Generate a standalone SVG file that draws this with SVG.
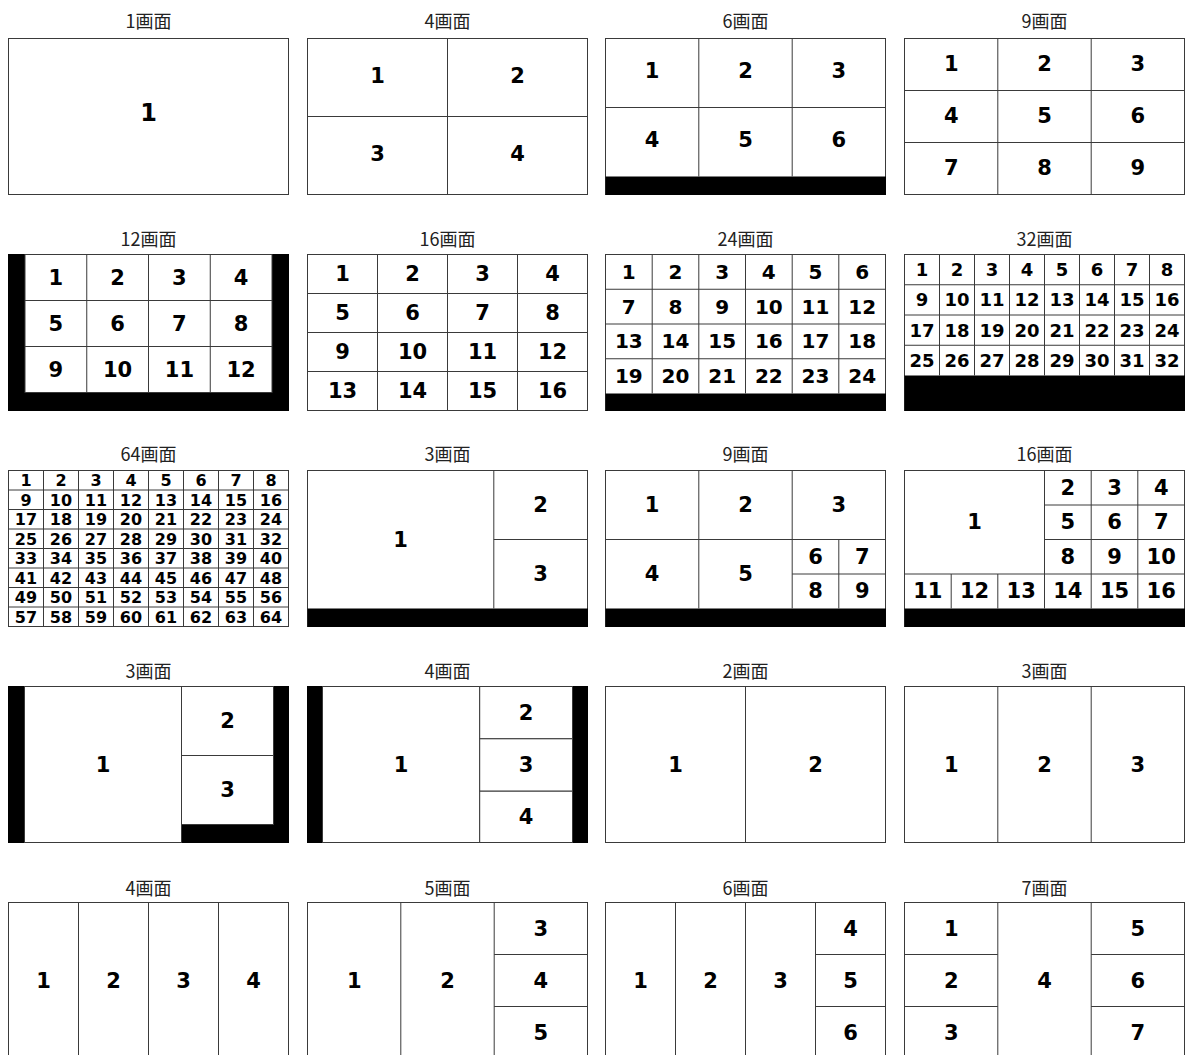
<svg xmlns="http://www.w3.org/2000/svg" width="1185" height="1055" viewBox="0 0 1185 1055">
<style>
.fr{fill:#fff;stroke:#3a3a3a;stroke-width:1}
.ln{fill:none;stroke:#3a3a3a;stroke-width:1}
.bk{fill:#000}
.tt{font-family:"Noto Sans CJK JP","Noto Sans",sans-serif;font-size:18px;fill:#222;text-anchor:middle}
.n{font-family:"DejaVu Sans",Verdana,sans-serif;font-weight:bold;font-size:21px;fill:#000;text-anchor:middle}
.n24{font-size:24px}
.n20{font-size:20px}
.n18{font-size:18px}
.n16{font-size:16px}
</style>
<rect width="1185" height="1055" fill="#fff"/>
<g id="connectors"/>

<!-- Row 0 -->
<g id="p-1">
<text class="tt" x="148.5" y="27.5">1画面</text>
<rect class="fr" x="8.5" y="38.5" width="280" height="156"/>
<text class="n n24" x="148.5" y="121">1</text>
</g>
<g id="p-4a">
<text class="tt" x="447.5" y="27.5">4画面</text>
<rect class="fr" x="307.5" y="38.5" width="280" height="156"/>
<path class="ln" d="M447.5 38.5V194.5M307.5 116.5H587.5"/>
<text class="n" x="377.5" y="83">1</text><text class="n" x="517.5" y="83">2</text>
<text class="n" x="377.5" y="161">3</text><text class="n" x="517.5" y="161">4</text>
</g>
<g id="p-6a">
<text class="tt" x="745.5" y="27.5">6画面</text>
<rect class="fr" x="605.5" y="38.5" width="280" height="156"/>
<rect class="bk" x="605.5" y="176.5" width="280.5" height="18.5"/>
<path class="ln" d="M698.8 38.5V176.5M792.2 38.5V176.5M605.5 107.5H885.5"/>
<text class="n" x="652.1" y="77.5">1</text><text class="n" x="745.5" y="77.5">2</text><text class="n" x="838.8" y="77.5">3</text>
<text class="n" x="652.1" y="146.5">4</text><text class="n" x="745.5" y="146.5">5</text><text class="n" x="838.8" y="146.5">6</text>
</g>
<g id="p-9a">
<text class="tt" x="1044.5" y="27.5">9画面</text>
<rect class="fr" x="904.5" y="38.5" width="280" height="156"/>
<path class="ln" d="M997.8 38.5V194.5M1091.2 38.5V194.5M904.5 90.5H1184.5M904.5 142.5H1184.5"/>
<text class="n" x="951.2" y="70.5">1</text><text class="n" x="1044.5" y="70.5">2</text><text class="n" x="1137.8" y="70.5">3</text>
<text class="n" x="951.2" y="122.5">4</text><text class="n" x="1044.5" y="122.5">5</text><text class="n" x="1137.8" y="122.5">6</text>
<text class="n" x="951.2" y="174.5">7</text><text class="n" x="1044.5" y="174.5">8</text><text class="n" x="1137.8" y="174.5">9</text>
</g>

<!-- Row 1 -->
<g id="p-12">
<text class="tt" x="148.5" y="245.5">12画面</text>
<rect class="bk" x="8" y="254" width="281" height="157"/>
<rect class="fr" x="25" y="254.5" width="247" height="138"/>
<path class="ln" d="M86.75 254.5V392.5M148.5 254.5V392.5M210.25 254.5V392.5M25 300.5H272M25 346.5H272"/>
<text class="n" x="55.9" y="284.5">1</text><text class="n" x="117.6" y="284.5">2</text><text class="n" x="179.4" y="284.5">3</text><text class="n" x="241.1" y="284.5">4</text>
<text class="n" x="55.9" y="330.5">5</text><text class="n" x="117.6" y="330.5">6</text><text class="n" x="179.4" y="330.5">7</text><text class="n" x="241.1" y="330.5">8</text>
<text class="n" x="55.9" y="376.5">9</text><text class="n" x="117.6" y="376.5">10</text><text class="n" x="179.4" y="376.5">11</text><text class="n" x="241.1" y="376.5">12</text>
</g>
<g id="p-16a">
<text class="tt" x="447.5" y="245.5">16画面</text>
<rect class="fr" x="307.5" y="254.5" width="280" height="156"/>
<path class="ln" d="M377.5 254.5V410.5M447.5 254.5V410.5M517.5 254.5V410.5M307.5 293.5H587.5M307.5 332.5H587.5M307.5 371.5H587.5"/>
<text class="n" x="342.5" y="281">1</text><text class="n" x="412.5" y="281">2</text><text class="n" x="482.5" y="281">3</text><text class="n" x="552.5" y="281">4</text>
<text class="n" x="342.5" y="320">5</text><text class="n" x="412.5" y="320">6</text><text class="n" x="482.5" y="320">7</text><text class="n" x="552.5" y="320">8</text>
<text class="n" x="342.5" y="359">9</text><text class="n" x="412.5" y="359">10</text><text class="n" x="482.5" y="359">11</text><text class="n" x="552.5" y="359">12</text>
<text class="n" x="342.5" y="398">13</text><text class="n" x="412.5" y="398">14</text><text class="n" x="482.5" y="398">15</text><text class="n" x="552.5" y="398">16</text>
</g>
<g id="p-24">
<text class="tt" x="745.5" y="245.5">24画面</text>
<rect class="fr" x="605.5" y="254.5" width="280" height="156"/>
<rect class="bk" x="605.5" y="393.5" width="280.5" height="17.5"/>
<path class="ln" d="M652.2 254.5V393.5M698.8 254.5V393.5M745.5 254.5V393.5M792.2 254.5V393.5M838.8 254.5V393.5M605.5 289.25H885.5M605.5 324H885.5M605.5 358.75H885.5"/>
<g class="n n20">
<text x="628.8" y="278.9">1</text><text x="675.5" y="278.9">2</text><text x="722.2" y="278.9">3</text><text x="768.8" y="278.9">4</text><text x="815.5" y="278.9">5</text><text x="862.2" y="278.9">6</text>
<text x="628.8" y="313.6">7</text><text x="675.5" y="313.6">8</text><text x="722.2" y="313.6">9</text><text x="768.8" y="313.6">10</text><text x="815.5" y="313.6">11</text><text x="862.2" y="313.6">12</text>
<text x="628.8" y="348.4">13</text><text x="675.5" y="348.4">14</text><text x="722.2" y="348.4">15</text><text x="768.8" y="348.4">16</text><text x="815.5" y="348.4">17</text><text x="862.2" y="348.4">18</text>
<text x="628.8" y="383.1">19</text><text x="675.5" y="383.1">20</text><text x="722.2" y="383.1">21</text><text x="768.8" y="383.1">22</text><text x="815.5" y="383.1">23</text><text x="862.2" y="383.1">24</text>
</g>
</g>
<g id="p-32">
<text class="tt" x="1044.5" y="245.5">32画面</text>
<rect class="fr" x="904.5" y="254.5" width="280" height="156"/>
<rect class="bk" x="904.5" y="375.5" width="280.5" height="35.5"/>
<path class="ln" d="M939.5 254.5V375.5M974.5 254.5V375.5M1009.5 254.5V375.5M1044.5 254.5V375.5M1079.5 254.5V375.5M1114.5 254.5V375.5M1149.5 254.5V375.5M904.5 284.75H1184.5M904.5 315H1184.5M904.5 345.25H1184.5"/>
<g class="n n18">
<text x="922" y="276.1">1</text><text x="957" y="276.1">2</text><text x="992" y="276.1">3</text><text x="1027" y="276.1">4</text><text x="1062" y="276.1">5</text><text x="1097" y="276.1">6</text><text x="1132" y="276.1">7</text><text x="1167" y="276.1">8</text>
<text x="922" y="306.4">9</text><text x="957" y="306.4">10</text><text x="992" y="306.4">11</text><text x="1027" y="306.4">12</text><text x="1062" y="306.4">13</text><text x="1097" y="306.4">14</text><text x="1132" y="306.4">15</text><text x="1167" y="306.4">16</text>
<text x="922" y="336.6">17</text><text x="957" y="336.6">18</text><text x="992" y="336.6">19</text><text x="1027" y="336.6">20</text><text x="1062" y="336.6">21</text><text x="1097" y="336.6">22</text><text x="1132" y="336.6">23</text><text x="1167" y="336.6">24</text>
<text x="922" y="366.9">25</text><text x="957" y="366.9">26</text><text x="992" y="366.9">27</text><text x="1027" y="366.9">28</text><text x="1062" y="366.9">29</text><text x="1097" y="366.9">30</text><text x="1132" y="366.9">31</text><text x="1167" y="366.9">32</text>
</g>
</g>

<!-- Row 2 -->
<g id="p-64">
<text class="tt" x="148.5" y="461">64画面</text>
<rect class="fr" x="8.5" y="470.5" width="280" height="156"/>
<path class="ln" d="M43.5 470.5V626.5M78.5 470.5V626.5M113.5 470.5V626.5M148.5 470.5V626.5M183.5 470.5V626.5M218.5 470.5V626.5M253.5 470.5V626.5M8.5 490H288.5M8.5 509.5H288.5M8.5 529H288.5M8.5 548.5H288.5M8.5 568H288.5M8.5 587.5H288.5M8.5 607H288.5"/>
<g class="n n16">
<text x="26" y="486">1</text><text x="61" y="486">2</text><text x="96" y="486">3</text><text x="131" y="486">4</text><text x="166" y="486">5</text><text x="201" y="486">6</text><text x="236" y="486">7</text><text x="271" y="486">8</text>
<text x="26" y="505.5">9</text><text x="61" y="505.5">10</text><text x="96" y="505.5">11</text><text x="131" y="505.5">12</text><text x="166" y="505.5">13</text><text x="201" y="505.5">14</text><text x="236" y="505.5">15</text><text x="271" y="505.5">16</text>
<text x="26" y="525">17</text><text x="61" y="525">18</text><text x="96" y="525">19</text><text x="131" y="525">20</text><text x="166" y="525">21</text><text x="201" y="525">22</text><text x="236" y="525">23</text><text x="271" y="525">24</text>
<text x="26" y="544.5">25</text><text x="61" y="544.5">26</text><text x="96" y="544.5">27</text><text x="131" y="544.5">28</text><text x="166" y="544.5">29</text><text x="201" y="544.5">30</text><text x="236" y="544.5">31</text><text x="271" y="544.5">32</text>
<text x="26" y="564">33</text><text x="61" y="564">34</text><text x="96" y="564">35</text><text x="131" y="564">36</text><text x="166" y="564">37</text><text x="201" y="564">38</text><text x="236" y="564">39</text><text x="271" y="564">40</text>
<text x="26" y="583.5">41</text><text x="61" y="583.5">42</text><text x="96" y="583.5">43</text><text x="131" y="583.5">44</text><text x="166" y="583.5">45</text><text x="201" y="583.5">46</text><text x="236" y="583.5">47</text><text x="271" y="583.5">48</text>
<text x="26" y="603">49</text><text x="61" y="603">50</text><text x="96" y="603">51</text><text x="131" y="603">52</text><text x="166" y="603">53</text><text x="201" y="603">54</text><text x="236" y="603">55</text><text x="271" y="603">56</text>
<text x="26" y="622.5">57</text><text x="61" y="622.5">58</text><text x="96" y="622.5">59</text><text x="131" y="622.5">60</text><text x="166" y="622.5">61</text><text x="201" y="622.5">62</text><text x="236" y="622.5">63</text><text x="271" y="622.5">64</text>
</g>
</g>
<g id="p-3a">
<text class="tt" x="447.5" y="461">3画面</text>
<rect class="fr" x="307.5" y="470.5" width="280" height="156"/>
<rect class="bk" x="307.5" y="608.5" width="280.5" height="18.5"/>
<path class="ln" d="M493.8 470.5V608.5M493.8 539.5H587.5"/>
<text class="n" x="400.6" y="546.5">1</text><text class="n" x="540.6" y="512">2</text><text class="n" x="540.6" y="581">3</text>
</g>
<g id="p-9b">
<text class="tt" x="745.5" y="461">9画面</text>
<rect class="fr" x="605.5" y="470.5" width="280" height="156"/>
<rect class="bk" x="605.5" y="608.5" width="280.5" height="18.5"/>
<path class="ln" d="M698.8 470.5V608.5M792.2 470.5V608.5M605.5 539.5H885.5M792.2 574H885.5M838.8 539.5V608.5"/>
<text class="n" x="652.1" y="512">1</text><text class="n" x="745.5" y="512">2</text><text class="n" x="838.8" y="512">3</text>
<text class="n" x="652.1" y="581">4</text><text class="n" x="745.5" y="581">5</text>
<text class="n" x="815.5" y="563.75">6</text><text class="n" x="862.2" y="563.75">7</text>
<text class="n" x="815.5" y="598.25">8</text><text class="n" x="862.2" y="598.25">9</text>
</g>
<g id="p-16b">
<text class="tt" x="1044.5" y="461">16画面</text>
<rect class="fr" x="904.5" y="470.5" width="280" height="156"/>
<rect class="bk" x="904.5" y="608.5" width="280.5" height="18.5"/>
<path class="ln" d="M1044.5 470.5V608.5M1091.2 470.5V608.5M1137.8 470.5V608.5M951.2 574V608.5M997.8 574V608.5M1044.5 505H1184.5M1044.5 539.5H1184.5M904.5 574H1184.5"/>
<text class="n" x="974.5" y="529.25">1</text>
<text class="n" x="1067.8" y="494.75">2</text><text class="n" x="1114.5" y="494.75">3</text><text class="n" x="1161.2" y="494.75">4</text>
<text class="n" x="1067.8" y="529.25">5</text><text class="n" x="1114.5" y="529.25">6</text><text class="n" x="1161.2" y="529.25">7</text>
<text class="n" x="1067.8" y="563.75">8</text><text class="n" x="1114.5" y="563.75">9</text><text class="n" x="1161.2" y="563.75">10</text>
<text class="n" x="927.8" y="598.25">11</text><text class="n" x="974.5" y="598.25">12</text><text class="n" x="1021.2" y="598.25">13</text><text class="n" x="1067.8" y="598.25">14</text><text class="n" x="1114.5" y="598.25">15</text><text class="n" x="1161.2" y="598.25">16</text>
</g>

<!-- Row 3 -->
<g id="p-3b">
<text class="tt" x="148.5" y="677.5">3画面</text>
<rect class="bk" x="8" y="686" width="281" height="157"/>
<rect class="fr" x="24.5" y="686.5" width="157" height="156"/>
<rect class="fr" x="181.5" y="686.5" width="92" height="69"/>
<rect class="fr" x="181.5" y="755.5" width="92" height="69"/>
<text class="n" x="103" y="771.5">1</text><text class="n" x="227.5" y="728">2</text><text class="n" x="227.5" y="797">3</text>
</g>
<g id="p-4b">
<text class="tt" x="447.5" y="677.5">4画面</text>
<rect class="bk" x="307" y="686" width="281" height="157"/>
<rect class="fr" x="322.5" y="686.5" width="157.2" height="156"/>
<rect class="fr" x="479.7" y="686.5" width="92.8" height="52.3"/>
<rect class="fr" x="479.7" y="738.8" width="92.8" height="52.4"/>
<rect class="fr" x="479.7" y="791.2" width="92.8" height="51.3"/>
<text class="n" x="401" y="771.5">1</text><text class="n" x="526" y="719.7">2</text><text class="n" x="526" y="772">3</text><text class="n" x="526" y="824.3">4</text>
</g>
<g id="p-2">
<text class="tt" x="745.5" y="677.5">2画面</text>
<rect class="fr" x="605.5" y="686.5" width="280" height="156"/>
<path class="ln" d="M745.5 686.5V842.5"/>
<text class="n" x="675.5" y="771.5">1</text><text class="n" x="815.5" y="771.5">2</text>
</g>
<g id="p-3c">
<text class="tt" x="1044.5" y="677.5">3画面</text>
<rect class="fr" x="904.5" y="686.5" width="280" height="156"/>
<path class="ln" d="M997.8 686.5V842.5M1091.2 686.5V842.5"/>
<text class="n" x="951.2" y="771.5">1</text><text class="n" x="1044.5" y="771.5">2</text><text class="n" x="1137.8" y="771.5">3</text>
</g>

<!-- Row 4 -->
<g id="p-4c">
<text class="tt" x="148.5" y="894.5">4画面</text>
<rect class="fr" x="8.5" y="902.5" width="280" height="156"/>
<path class="ln" d="M78.5 902.5V1058.5M148.5 902.5V1058.5M218.5 902.5V1058.5"/>
<text class="n" x="43.5" y="987.5">1</text><text class="n" x="113.5" y="987.5">2</text><text class="n" x="183.5" y="987.5">3</text><text class="n" x="253.5" y="987.5">4</text>
</g>
<g id="p-5">
<text class="tt" x="447.5" y="894.5">5画面</text>
<rect class="fr" x="307.5" y="902.5" width="280" height="156"/>
<path class="ln" d="M400.8 902.5V1058.5M494.2 902.5V1058.5M494.2 954.5H587.5M494.2 1006.5H587.5"/>
<text class="n" x="354.2" y="987.5">1</text><text class="n" x="447.5" y="987.5">2</text>
<text class="n" x="540.8" y="935.5">3</text><text class="n" x="540.8" y="987.5">4</text><text class="n" x="540.8" y="1039.5">5</text>
</g>
<g id="p-6b">
<text class="tt" x="745.5" y="894.5">6画面</text>
<rect class="fr" x="605.5" y="902.5" width="280" height="156"/>
<path class="ln" d="M675.5 902.5V1058.5M745.5 902.5V1058.5M815.5 902.5V1058.5M815.5 954.5H885.5M815.5 1006.5H885.5"/>
<text class="n" x="640.5" y="987.5">1</text><text class="n" x="710.5" y="987.5">2</text><text class="n" x="780.5" y="987.5">3</text>
<text class="n" x="850.5" y="935.5">4</text><text class="n" x="850.5" y="987.5">5</text><text class="n" x="850.5" y="1039.5">6</text>
</g>
<g id="p-7">
<text class="tt" x="1044.5" y="894.5">7画面</text>
<rect class="fr" x="904.5" y="902.5" width="280" height="156"/>
<path class="ln" d="M997.8 902.5V1058.5M1091.2 902.5V1058.5M904.5 954.5H997.8M904.5 1006.5H997.8M1091.2 954.5H1184.5M1091.2 1006.5H1184.5"/>
<text class="n" x="951.2" y="935.5">1</text><text class="n" x="951.2" y="987.5">2</text><text class="n" x="951.2" y="1039.5">3</text>
<text class="n" x="1044.5" y="987.5">4</text>
<text class="n" x="1137.8" y="935.5">5</text><text class="n" x="1137.8" y="987.5">6</text><text class="n" x="1137.8" y="1039.5">7</text>
</g>
</svg>
